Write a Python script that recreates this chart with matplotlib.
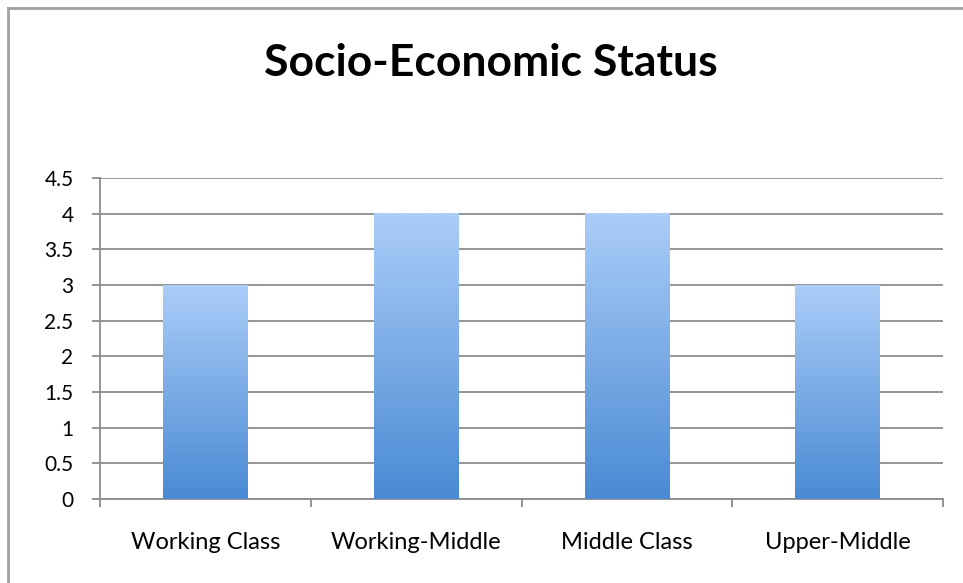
import numpy as np
from matplotlib import pyplot as plt
from matplotlib.colors import LinearSegmentedColormap
from matplotlib.lines import Line2D

categories = ["Working Class", "Working-Middle", "Middle Class", "Upper-Middle"]
values = [3, 4, 4, 3]
yticks = [0, 0.5, 1, 1.5, 2, 2.5, 3, 3.5, 4, 4.5]
ytick_labels = ["0", "0.5", "1", "1.5", "2", "2.5", "3", "3.5", "4", "4.5"]

plt.rcParams["font.family"] = ["Lato", "DejaVu Sans"]

fig = plt.figure(figsize=(9.63, 5.83), dpi=100)
ax = fig.add_axes([100 / 963, 84 / 583, 843 / 963, 321 / 583])

x = np.arange(len(categories))
bars = ax.bar(x, values, width=0.4, color="none", zorder=3)

# gradient fill, light on top, darker at the bottom
cmap = LinearSegmentedColormap.from_list("bar", ["#4a8ad4", "#abcdf8"])
grad = np.linspace(0, 1, 256).reshape(-1, 1)
for b in bars:
    x0, y0 = b.get_x(), b.get_y()
    ax.imshow(grad, cmap=cmap, origin="lower", aspect="auto", zorder=3,
              extent=[x0, x0 + b.get_width(), y0, y0 + b.get_height()])

ax.set_xlim(-0.5, len(categories) - 0.5)
ax.set_ylim(0, 4.5)

ax.set_yticks(yticks)
ax.set_yticklabels(ytick_labels, fontsize=15)
ax.yaxis.grid(True, color="#8c8c8c", lw=1.3, zorder=0)
ax.tick_params(axis="y", length=6, width=1.3, color="#8c8c8c", pad=13)

# category boundaries as major ticks, names as minor ticks
ax.set_xticks(np.arange(len(categories) + 1) - 0.5)
ax.set_xticklabels([])
ax.set_xticks(x, minor=True)
ax.set_xticklabels(categories, minor=True, fontsize=17)
ax.tick_params(axis="x", which="major", length=6, width=1.3, color="#8c8c8c")
ax.tick_params(axis="x", which="minor", length=0, pad=24)

for side in ["top", "right"]:
    ax.spines[side].set_visible(False)
for side in ["left", "bottom"]:
    ax.spines[side].set_color("#8c8c8c")
    ax.spines[side].set_linewidth(1.3)

fig.text(491 / 963, 1 - 63 / 583, "Socio-Economic Status", ha="center", va="center",
         fontsize=32, fontweight="bold")

# outer chart border (top and left edges visible)
fig.add_artist(Line2D([8 / 963, 1], [1 - 8 / 583, 1 - 8 / 583], color="#a0a0a0", lw=2))
fig.add_artist(Line2D([8 / 963, 8 / 963], [0, 1 - 8 / 583], color="#a0a0a0", lw=2))

fig.savefig("out.png", dpi=100)
